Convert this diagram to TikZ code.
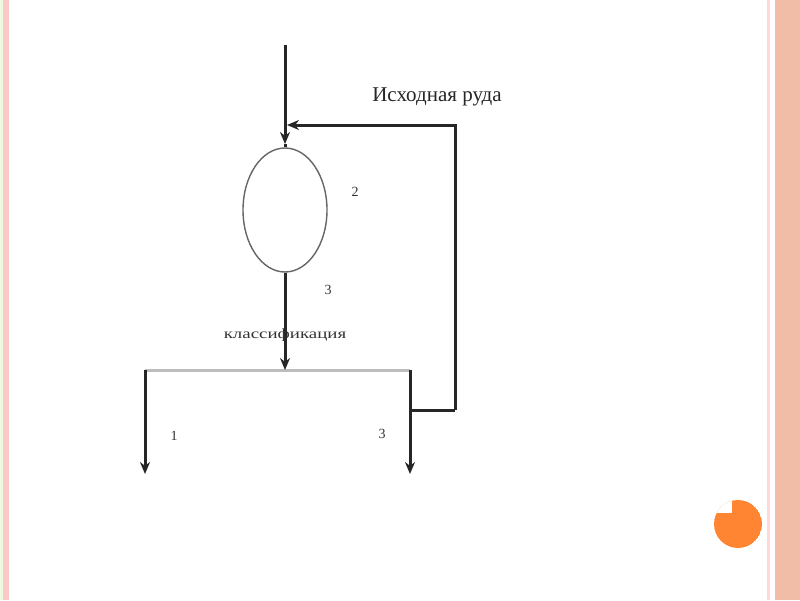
\documentclass[tikz,border=0pt]{standalone}
\usepackage{fontspec}
\setmainfont{Liberation Serif}
\usetikzlibrary{shapes.geometric,arrows.meta}
\definecolor{salmon}{HTML}{F2BDA6}
\definecolor{pinkline}{HTML}{FFC8C8}
\definecolor{greenline}{HTML}{EEFAE0}
\definecolor{orangedot}{HTML}{FF8533}
\definecolor{grayline}{HTML}{BDBDBD}
\tikzset{
  flow/.style={line width=3pt, draw=black!85},
  flowarr/.style={flow, -{Stealth[length=12pt,width=10pt]}},
  splitter/.style={line width=3pt, draw=grayline},
  lbl/.style={font=\fontsize{14}{15}\selectfont, text=black!80, inner sep=0pt},
}
\begin{document}
\begin{tikzpicture}[x=1pt,y=-1pt]
\useasboundingbox (0,0) rectangle (800,600);
\fill[white] (0,0) rectangle (800,600);
% slide decoration
\fill[greenline] (0,0) rectangle (3,600);
\fill[pinkline] (3,0) rectangle (9,600);
\fill[salmon] (775,0) rectangle (800,600);
\fill[pinkline!70] (767,0) rectangle (770,600);
\begin{scope}
  \clip (738,524) circle (24);
  \fill[orangedot] (738,524) circle (24);
  \fill[white] (700,490) rectangle (732,513);
\end{scope}
% diagram
\node[ellipse, draw=black!60, line width=1.4pt, minimum width=84pt, minimum height=124pt, inner sep=0pt] (mill) at (285,210) {};
\coordinate (in) at (285,45);
\coordinate (rtop) at (455,125);
\coordinate (rbot) at (455,410);
\coordinate (rj) at (410,410);
\coordinate (mj) at (285,370);
\coordinate (lj) at (145,370);
\coordinate (rsj) at (410,370);
\coordinate (lout) at (145,474);
\coordinate (rout) at (410,474);
\coordinate (inlet) at (287,125);

\draw[flowarr] (in) -- (285,144);
\draw[flow] (285,144) -- (mill.north);
\draw[flowarr] (rbot) -- (rtop) -- (inlet);
\draw[flow] (rbot) -- (rj);
\draw[splitter] (lj) -- (rsj);
\draw[flowarr] (mill.south) -- (mj);
\draw[flowarr] (lj) -- (lout);
\draw[flowarr] (rsj) -- (rout);

\node[font=\fontsize{21}{22}\selectfont, inner sep=0pt, text=black!85] (ore) at (437,97) {Исходная руда};
\node[lbl] (n2) at (355,192) {2};
\node[lbl] (n3) at (328,290) {3};
\node[lbl] (cls) at (285,335) {\scalebox{1.35}[1]{классификация}};
\node[lbl] (n1) at (174,436) {1};
\node[lbl] (n3b) at (382,434) {3};
\end{tikzpicture}
\end{document}
